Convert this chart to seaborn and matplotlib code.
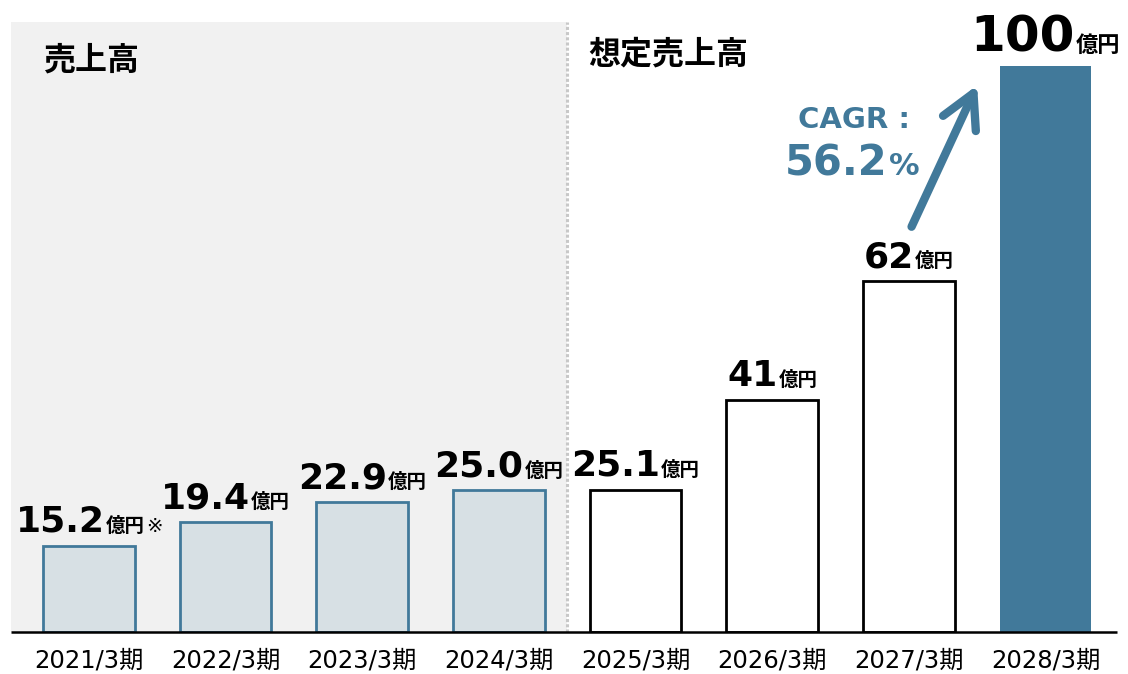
import matplotlib
matplotlib.use("Agg")
import matplotlib.pyplot as plt
import seaborn as sns
import pandas as pd

# chart data
periods = ["2021/3期", "2022/3期", "2023/3期", "2024/3期",
           "2025/3期", "2026/3期", "2027/3期", "2028/3期"]
sales = [15.2, 19.4, 22.9, 25.0, 25.1, 41, 62, 100]
value_labels = ["15.2", "19.4", "22.9", "25.0", "25.1", "41", "62", "100"]
notes = ["※", "", "", "", "", "", "", ""]
n_actual = 4  # first four periods are actual sales, the rest are plans
unit = "億円"
section_titles = ["売上高", "想定売上高"]
cagr_title = "CAGR :"
cagr_value = "56.2"

BLUE = "#41799a"
PALE = "#d7e0e4"
SHADE = "#f1f1f1"

sns.set_theme(style="white")
plt.rcParams["font.family"] = ["DejaVu Sans", "Noto Sans CJK JP"]
plt.rcParams["text.color"] = "black"

W, H = 1128, 674
fig = plt.figure(figsize=(W / 100, H / 100), dpi=100)
ax = fig.add_axes([0, 42 / H, 1, 632 / H])

df = pd.DataFrame({"period": periods, "sales": sales})
sns.barplot(data=df, x="period", y="sales", ax=ax, width=0.67,
            color="white", saturation=1, zorder=2)

for i, bar in enumerate(ax.patches):
    if i < n_actual:
        bar.set_facecolor(PALE)
        bar.set_edgecolor(BLUE)
        bar.set_linewidth(2.0)
    elif i == len(sales) - 1:
        bar.set_facecolor(BLUE)
        bar.set_edgecolor(BLUE)
        bar.set_linewidth(0)
    else:
        bar.set_facecolor("white")
        bar.set_edgecolor("black")
        bar.set_linewidth(2.0)

ax.set_xlim(-0.651, 7.604)
ax.set_ylim(0, 111.66)
ax.set_xlabel("")
ax.set_ylabel("")
ax.set_yticks([])
ax.tick_params(axis="x", length=0, pad=12, labelsize=17.5, labelcolor="black")
for sp in ax.spines.values():
    sp.set_visible(False)

# shaded "actual" region and divider
split = n_actual - 0.5
ax.axvspan(-0.571, split, ymin=0, ymax=107.8 / 111.66, color=SHADE, lw=0, zorder=0)
ax.vlines(split, 0, 107.8, color="#c8c8c8", linestyles=(0, (1, 0.7)), lw=2.2, zorder=1)
ax.hlines(0, -0.571, 7.523, color="black", lw=1.8, zorder=3, clip_on=False)

fig.text(43 / W, 1 - 61 / H, section_titles[0], fontsize=23, fontweight="bold",
         va="center", ha="left", color="black")
fig.text(588 / W, 1 - 55 / H, section_titles[1], fontsize=23, fontweight="bold",
         va="center", ha="left", color="black")

renderer = fig.canvas.get_renderer()


def text_width(s, **kw):
    t = fig.text(0, 0, s, **kw)
    w = t.get_window_extent(renderer).width
    t.remove()
    return w


def text_row(parts, xy, xycoords, dy, sep=2):
    # parts: list of (text, props); drawn side by side, centred on xy
    widths = [text_width(s, **p) for s, p in parts]
    total = sum(widths) + sep * (len(parts) - 1)
    x0 = -total / 2
    for (s, p), w in zip(parts, widths):
        ax.annotate(s, xy=xy, xycoords=xycoords, xytext=(x0, dy),
                    textcoords="offset pixels", ha="left", va="baseline",
                    annotation_clip=False, **p)
        x0 += w + sep


for i, (v, lab, note) in enumerate(zip(sales, value_labels, notes)):
    is_top = v == max(sales)
    parts = [(lab, dict(fontsize=36 if is_top else 26, fontweight="bold", color="black")),
             (unit, dict(fontsize=16 if is_top else 14, fontweight="bold", color="black"))]
    if note:
        parts.append((note, dict(fontsize=14, color="black")))
    text_row(parts, (i, v), "data", 14, sep=1)

# CAGR callout
text_row([(cagr_title, dict(fontsize=21, fontweight="bold", color=BLUE))],
         (854, H - 128), "figure pixels", 0)
text_row([(cagr_value, dict(fontsize=30, fontweight="bold", color=BLUE)),
          ("%", dict(fontsize=22, fontweight="bold", color=BLUE))],
         (852, H - 175), "figure pixels", 0)

ax.annotate("", xy=(6.5, 96.6), xytext=(6.02, 71.6), xycoords="data",
            arrowprops=dict(arrowstyle="->,head_length=2.4,head_width=1.3",
                            color=BLUE, lw=6, shrinkA=0, shrinkB=0,
                            mutation_scale=10, capstyle="round",
                            joinstyle="round"))

fig.savefig("out.png", dpi=100, facecolor="white")
